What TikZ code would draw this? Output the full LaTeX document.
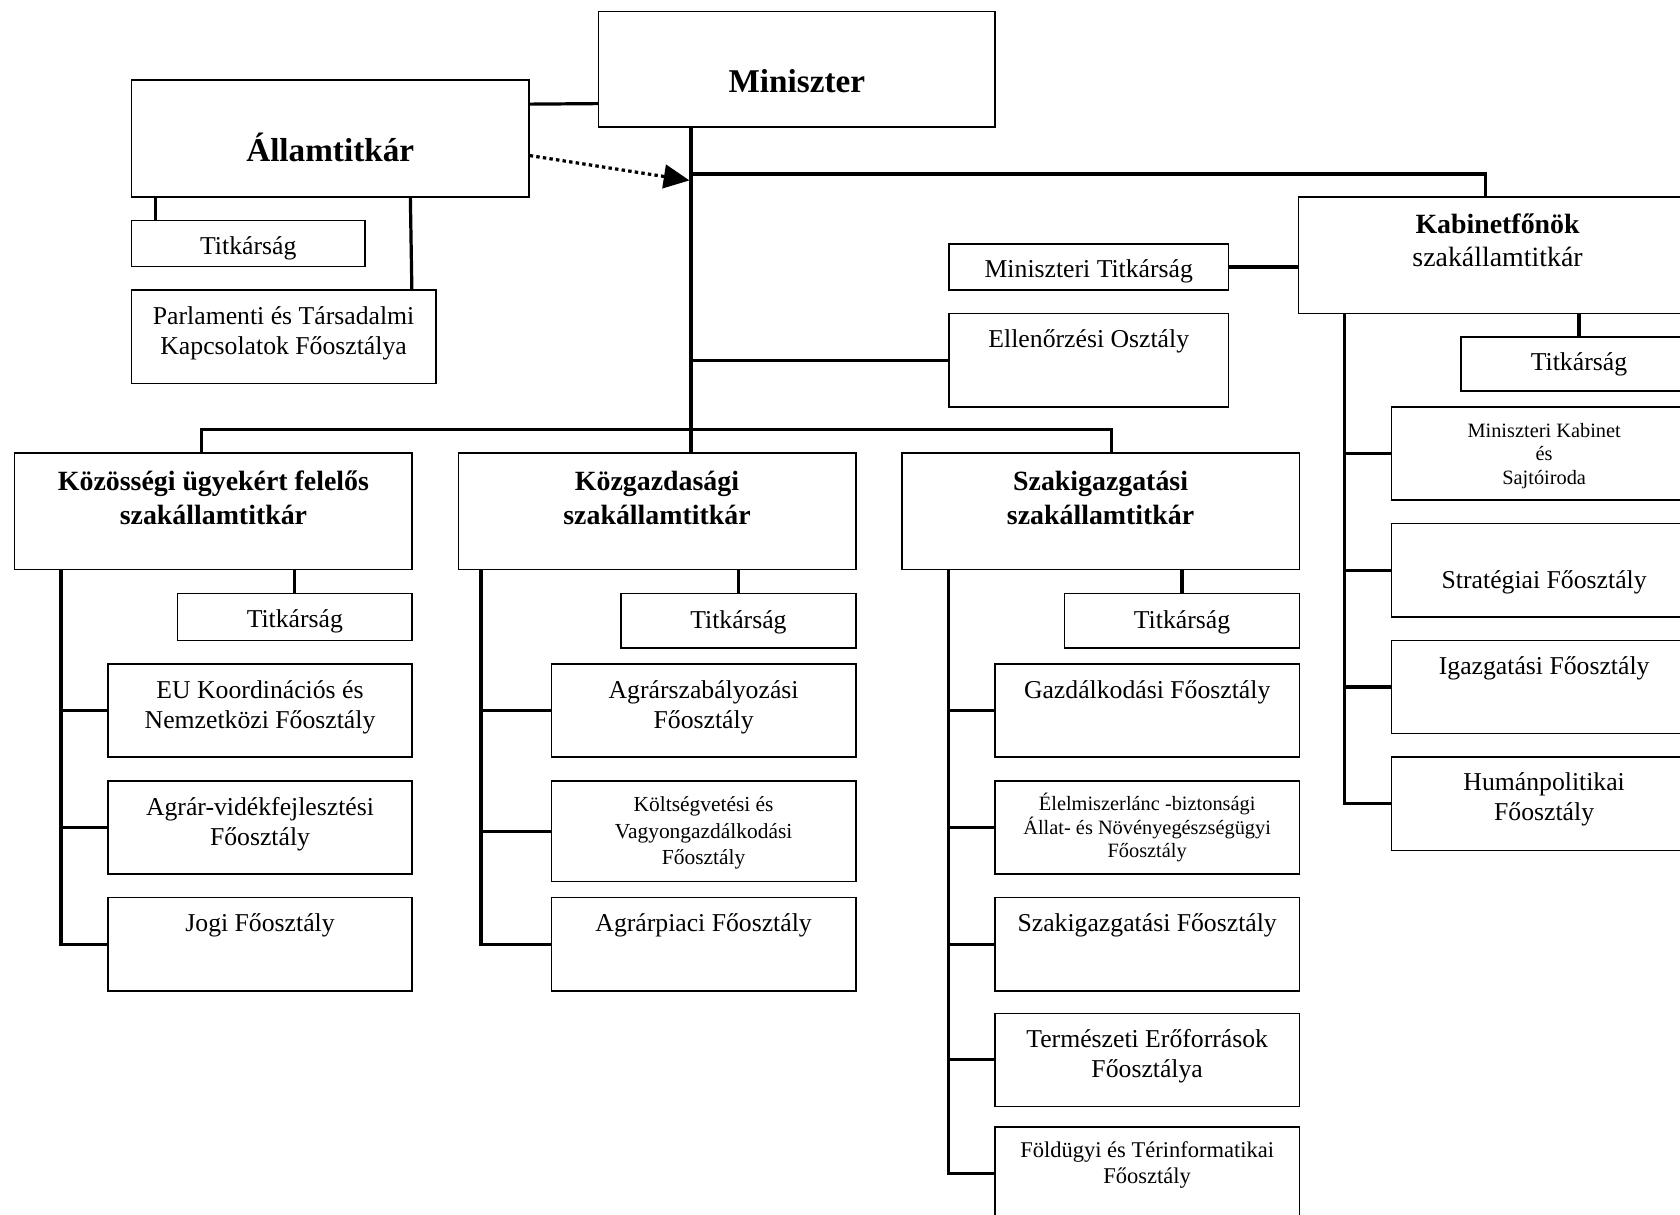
\documentclass[tikz,border=0pt]{standalone}
\usepackage{fontspec}
\setmainfont{Liberation Serif}
\usetikzlibrary{arrows.meta}
\tikzset{
  box/.style={draw, line width=.7pt, anchor=north west, inner sep=1pt,
    align=center, font=\fontsize{12}{14}\selectfont},
  sz/.style 2 args={minimum width=#1pt, minimum height=#2pt},
  tb/.style 2 args={text height=#1pt, text depth=#2pt},
  hi/.style={tb={12}{23.5}},
  hii/.style={tb={20.5}{4}},
  head/.style={font=\bfseries\fontsize{13}{15.5}\selectfont},
  big/.style={font=\bfseries\fontsize{15.5}{18}\selectfont},
  link/.style={line width=1.5pt},
}
\begin{document}
\begin{tikzpicture}[x=.5pt, y=-.5pt]
  \clip (0,0) rectangle (1568,1134);
  \node[box, sz={185}{54}, tb={26}{4}, big] (minis) at (558,10) {Miniszter};
  \node[box, sz={185.5}{54.5}, tb={26}{4.2}, big] (allam) at (122,74) {Államtitkár};
  \node[box, sz={109}{21.5}, tb={11}{1.1}] (atitk) at (122,205) {Titkárság};
  \node[box, sz={142}{43.5}, tb={20.8}{4}] (parl) at (122,270) {Parlamenti és Társadalmi\\Kapcsolatok Főosztálya};
  \node[box, sz={130.5}{21.5}, tb={11}{1}] (mtitk) at (885,227) {Miniszteri Titkárság};
  \node[box, sz={130.5}{43.5}, hi] (ellen) at (885,292) {Ellenőrzési Osztály};
  \node[box, sz={186}{54.5}, tb={15}{4}, font=\fontsize{13}{15.5}\selectfont] (kabin) at (1211,183) {\textbf{Kabinetfőnök}\\szakállamtitkár};
  \node[box, sz={110}{25}, tb={10}{3.5}] (ktitk) at (1363,314) {Titkárság};
  \node[box, sz={142.5}{43.5}, tb={32}{3}, font=\fontsize{9.5}{11}\selectfont] (mkab) at (1298,379) {Miniszteri Kabinet\\és\\Sajtóiroda};
  \node[box, sz={142.5}{43.5}, tb={20}{3}] (strat) at (1298,488) {Stratégiai Főosztály};
  \node[box, sz={142.5}{43.5}, hi] (igaz) at (1298,597) {Igazgatási Főosztály};
  \node[box, sz={142.5}{43.5}, tb={20}{4}] (human) at (1298,706) {Humánpolitikai\\Főosztály};

  \node[box, sz={185.5}{54.5}, tb={16}{4}, head] (kozos) at (13,422) {Közösségi ügyekért felelős\\szakállamtitkár};
  \node[box, sz={185.5}{54.5}, tb={16}{4}, head] (kozg) at (427,422) {Közgazdasági\\szakállamtitkár};
  \node[box, sz={185.5}{54.5}, tb={16}{4}, head] (szak) at (841,422) {Szakigazgatási\\szakállamtitkár};
  \node[box, sz={109.5}{22}, tb={10}{.5}] (titk1) at (165,553) {Titkárság};
  \node[box, sz={109.5}{25.5}, tb={10}{3}] (titk2) at (579,553) {Titkárság};
  \node[box, sz={109.5}{25.5}, tb={10}{3}] (titk3) at (993,553) {Titkárság};

  \node[box, sz={142}{43.5}, hii] (eu) at (100,619) {EU Koordinációs és\\Nemzetközi Főosztály};
  \node[box, sz={142}{43.5}, hii] (agrv) at (100,728) {Agrár-vidékfejlesztési\\Főosztály};
  \node[box, sz={142}{43.5}, hi] (jogi) at (100,837) {Jogi Főosztály};
  \node[box, sz={142}{43.5}, hii] (agrsz) at (514,619) {Agrárszabályozási\\Főosztály};
  \node[box, sz={142}{47}, tb={34.5}{3}, font=\fontsize{10}{12.5}\selectfont] (kolts) at (514,728) {Költségvetési és\\Vagyongazdálkodási\\Főosztály};
  \node[box, sz={142}{43.5}, hi] (agrp) at (514,837) {Agrárpiaci Főosztály};
  \node[box, sz={142}{43.5}, hi] (gazd) at (928,619) {Gazdálkodási Főosztály};
  \node[box, sz={142}{43.5}, tb={31.5}{3}, font=\fontsize{9.5}{11}\selectfont] (elelm) at (928,728) {Élelmiszerlánc -biztonsági\\Állat- és Növényegészségügyi\\Főosztály};
  \node[box, sz={142}{43.5}, hi] (szfo) at (928,837) {Szakigazgatási Főosztály};
  \node[box, sz={142}{43.5}, hii] (term) at (928,945) {Természeti Erőforrások\\Főosztálya};
  \node[box, sz={142}{43.5}, tb={12.5}{3}, font=\fontsize{10.5}{12}\selectfont] (fold) at (928,1051) {Földügyi és Térinformatikai\\Főosztály};

  \coordinate (trunk) at ([xshift=43.5pt]minis.south west);
  \coordinate (tip) at ([shift={(-1.5,49)}]trunk);
  \draw[link] ([yshift=16pt]allam.east) -- ([yshift=-16pt]minis.west);
  \draw[link] (trunk) -- (trunk |- kozg.north);
  \draw[link] (trunk) ++(0, 43) -| ([xshift=-5.5pt]kabin.north);
  \draw[link, dash pattern=on 1.6pt off 1.5pt, -{Triangle[length=12pt, width=11pt]}] ([yshift=-8pt]allam.east) -- (tip);
  \draw[link] (trunk |- ellen.west) -- (ellen.west);
  \draw[link] (mtitk.east) -- (mtitk.east -| kabin.west);
  \draw[link] ([xshift=-5.75pt]kozos.north) -- ++(0, -21) -| ([xshift=5.25pt]szak.north);
  \draw[link] ([xshift=11.5pt]allam.south west) -- ([xshift=11.5pt]atitk.north west);
  \draw[link] ([xshift=130.5pt]allam.south west) -- ([xshift=-11.5pt]parl.north east);

  \foreach \a/\b in {kozos/titk1, kozg/titk2, szak/titk3, kabin/ktitk}
    \draw[link] (\b.north) -- (\b.north |- \a.south);

  \coordinate (s1) at ([xshift=22pt]kozos.south west);
  \coordinate (s2) at ([xshift=11pt]kozg.south west);
  \coordinate (s3) at ([xshift=22pt]szak.south west);
  \coordinate (s4) at ([xshift=22pt]kabin.south west);
  \draw[link] (s1) |- (jogi.west);
  \draw[link] (s2) |- (agrp.west);
  \draw[link] (s3) |- (fold.west);
  \draw[link] (s4) |- (human.west);
  \foreach \s/\b in {s1/eu, s1/agrv, s2/agrsz, s2/kolts, s3/gazd, s3/elelm, s3/szfo, s3/term, s4/mkab, s4/strat, s4/igaz}
    \draw[link] (\s |- \b.west) -- (\b.west);
\end{tikzpicture}
\end{document}
